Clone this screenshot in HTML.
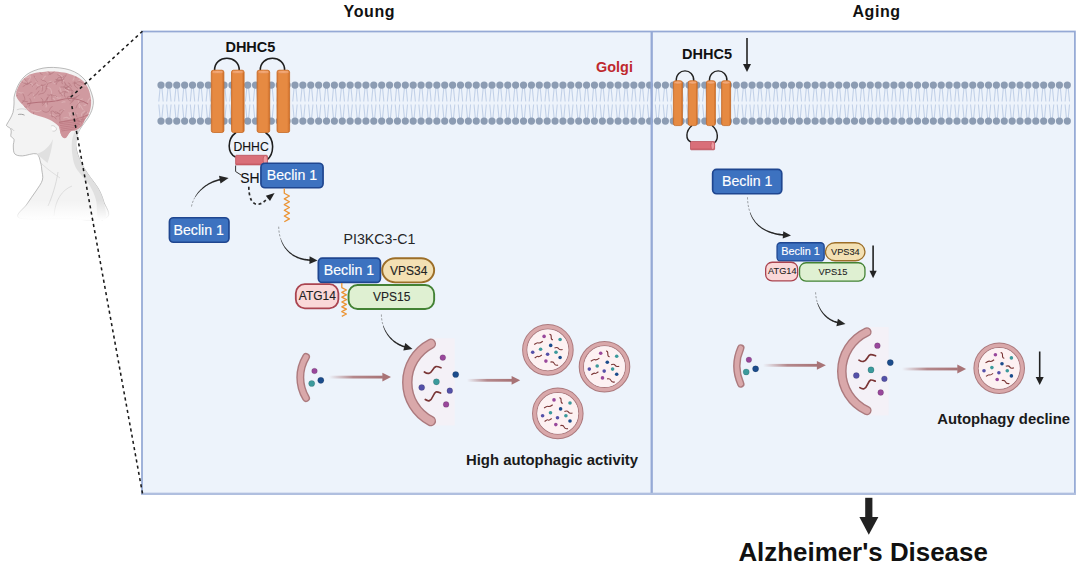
<!DOCTYPE html>
<html><head><meta charset="utf-8"><title>Diagram</title>
<style>
html,body{margin:0;padding:0;background:#fff;width:1080px;height:571px;overflow:hidden}
svg{display:block}
text{font-family:"Liberation Sans",sans-serif}
</style></head><body>
<svg width="1080" height="571" viewBox="0 0 1080 571">
<rect x="142" y="31.5" width="932.9" height="462.3" fill="#edf3fb" stroke="#95a9d5" stroke-width="1.75"/>
<path d="M160.10,88 L158.80,101.5 M161.90,88 L163.20,101.5 M158.80,104.5 L160.10,118 M163.20,104.5 L161.90,118 M167.98,88 L166.68,101.5 M169.78,88 L171.08,101.5 M166.68,104.5 L167.98,118 M171.08,104.5 L169.78,118 M175.86,88 L174.56,101.5 M177.66,88 L178.96,101.5 M174.56,104.5 L175.86,118 M178.96,104.5 L177.66,118 M183.74,88 L182.44,101.5 M185.54,88 L186.84,101.5 M182.44,104.5 L183.74,118 M186.84,104.5 L185.54,118 M191.62,88 L190.32,101.5 M193.42,88 L194.72,101.5 M190.32,104.5 L191.62,118 M194.72,104.5 L193.42,118 M199.50,88 L198.21,101.5 M201.31,88 L202.60,101.5 M198.21,104.5 L199.50,118 M202.60,104.5 L201.31,118 M207.39,88 L206.09,101.5 M209.19,88 L210.49,101.5 M206.09,104.5 L207.39,118 M210.49,104.5 L209.19,118 M215.27,88 L213.97,101.5 M217.07,88 L218.37,101.5 M213.97,104.5 L215.27,118 M218.37,104.5 L217.07,118 M223.15,88 L221.85,101.5 M224.95,88 L226.25,101.5 M221.85,104.5 L223.15,118 M226.25,104.5 L224.95,118 M231.03,88 L229.73,101.5 M232.83,88 L234.13,101.5 M229.73,104.5 L231.03,118 M234.13,104.5 L232.83,118 M238.91,88 L237.61,101.5 M240.71,88 L242.01,101.5 M237.61,104.5 L238.91,118 M242.01,104.5 L240.71,118 M246.79,88 L245.49,101.5 M248.59,88 L249.89,101.5 M245.49,104.5 L246.79,118 M249.89,104.5 L248.59,118 M254.67,88 L253.37,101.5 M256.47,88 L257.77,101.5 M253.37,104.5 L254.67,118 M257.77,104.5 L256.47,118 M262.55,88 L261.25,101.5 M264.35,88 L265.65,101.5 M261.25,104.5 L262.55,118 M265.65,104.5 L264.35,118 M270.43,88 L269.13,101.5 M272.23,88 L273.53,101.5 M269.13,104.5 L270.43,118 M273.53,104.5 L272.23,118 M278.32,88 L277.02,101.5 M280.12,88 L281.42,101.5 M277.02,104.5 L278.32,118 M281.42,104.5 L280.12,118 M286.20,88 L284.90,101.5 M288.00,88 L289.30,101.5 M284.90,104.5 L286.20,118 M289.30,104.5 L288.00,118 M294.08,88 L292.78,101.5 M295.88,88 L297.18,101.5 M292.78,104.5 L294.08,118 M297.18,104.5 L295.88,118 M301.96,88 L300.66,101.5 M303.76,88 L305.06,101.5 M300.66,104.5 L301.96,118 M305.06,104.5 L303.76,118 M309.84,88 L308.54,101.5 M311.64,88 L312.94,101.5 M308.54,104.5 L309.84,118 M312.94,104.5 L311.64,118 M317.72,88 L316.42,101.5 M319.52,88 L320.82,101.5 M316.42,104.5 L317.72,118 M320.82,104.5 L319.52,118 M325.60,88 L324.30,101.5 M327.40,88 L328.70,101.5 M324.30,104.5 L325.60,118 M328.70,104.5 L327.40,118 M333.48,88 L332.18,101.5 M335.28,88 L336.58,101.5 M332.18,104.5 L333.48,118 M336.58,104.5 L335.28,118 M341.36,88 L340.06,101.5 M343.16,88 L344.46,101.5 M340.06,104.5 L341.36,118 M344.46,104.5 L343.16,118 M349.24,88 L347.94,101.5 M351.04,88 L352.34,101.5 M347.94,104.5 L349.24,118 M352.34,104.5 L351.04,118 M357.12,88 L355.82,101.5 M358.92,88 L360.22,101.5 M355.82,104.5 L357.12,118 M360.22,104.5 L358.92,118 M365.01,88 L363.71,101.5 M366.81,88 L368.11,101.5 M363.71,104.5 L365.01,118 M368.11,104.5 L366.81,118 M372.89,88 L371.59,101.5 M374.69,88 L375.99,101.5 M371.59,104.5 L372.89,118 M375.99,104.5 L374.69,118 M380.77,88 L379.47,101.5 M382.57,88 L383.87,101.5 M379.47,104.5 L380.77,118 M383.87,104.5 L382.57,118 M388.65,88 L387.35,101.5 M390.45,88 L391.75,101.5 M387.35,104.5 L388.65,118 M391.75,104.5 L390.45,118 M396.53,88 L395.23,101.5 M398.33,88 L399.63,101.5 M395.23,104.5 L396.53,118 M399.63,104.5 L398.33,118 M404.41,88 L403.11,101.5 M406.21,88 L407.51,101.5 M403.11,104.5 L404.41,118 M407.51,104.5 L406.21,118 M412.29,88 L410.99,101.5 M414.09,88 L415.39,101.5 M410.99,104.5 L412.29,118 M415.39,104.5 L414.09,118 M420.17,88 L418.87,101.5 M421.97,88 L423.27,101.5 M418.87,104.5 L420.17,118 M423.27,104.5 L421.97,118 M428.05,88 L426.75,101.5 M429.85,88 L431.15,101.5 M426.75,104.5 L428.05,118 M431.15,104.5 L429.85,118 M435.94,88 L434.64,101.5 M437.74,88 L439.04,101.5 M434.64,104.5 L435.94,118 M439.04,104.5 L437.74,118 M443.82,88 L442.52,101.5 M445.62,88 L446.92,101.5 M442.52,104.5 L443.82,118 M446.92,104.5 L445.62,118 M451.70,88 L450.40,101.5 M453.50,88 L454.80,101.5 M450.40,104.5 L451.70,118 M454.80,104.5 L453.50,118 M459.58,88 L458.28,101.5 M461.38,88 L462.68,101.5 M458.28,104.5 L459.58,118 M462.68,104.5 L461.38,118 M467.46,88 L466.16,101.5 M469.26,88 L470.56,101.5 M466.16,104.5 L467.46,118 M470.56,104.5 L469.26,118 M475.34,88 L474.04,101.5 M477.14,88 L478.44,101.5 M474.04,104.5 L475.34,118 M478.44,104.5 L477.14,118 M483.22,88 L481.92,101.5 M485.02,88 L486.32,101.5 M481.92,104.5 L483.22,118 M486.32,104.5 L485.02,118 M491.10,88 L489.80,101.5 M492.90,88 L494.20,101.5 M489.80,104.5 L491.10,118 M494.20,104.5 L492.90,118 M498.98,88 L497.68,101.5 M500.78,88 L502.08,101.5 M497.68,104.5 L498.98,118 M502.08,104.5 L500.78,118 M506.86,88 L505.56,101.5 M508.66,88 L509.96,101.5 M505.56,104.5 L506.86,118 M509.96,104.5 L508.66,118 M514.75,88 L513.44,101.5 M516.54,88 L517.85,101.5 M513.44,104.5 L514.75,118 M517.85,104.5 L516.54,118 M522.63,88 L521.33,101.5 M524.43,88 L525.73,101.5 M521.33,104.5 L522.63,118 M525.73,104.5 L524.43,118 M530.51,88 L529.21,101.5 M532.31,88 L533.61,101.5 M529.21,104.5 L530.51,118 M533.61,104.5 L532.31,118 M538.39,88 L537.09,101.5 M540.19,88 L541.49,101.5 M537.09,104.5 L538.39,118 M541.49,104.5 L540.19,118 M546.27,88 L544.97,101.5 M548.07,88 L549.37,101.5 M544.97,104.5 L546.27,118 M549.37,104.5 L548.07,118 M554.15,88 L552.85,101.5 M555.95,88 L557.25,101.5 M552.85,104.5 L554.15,118 M557.25,104.5 L555.95,118 M562.03,88 L560.73,101.5 M563.83,88 L565.13,101.5 M560.73,104.5 L562.03,118 M565.13,104.5 L563.83,118 M569.91,88 L568.61,101.5 M571.71,88 L573.01,101.5 M568.61,104.5 L569.91,118 M573.01,104.5 L571.71,118 M577.79,88 L576.49,101.5 M579.59,88 L580.89,101.5 M576.49,104.5 L577.79,118 M580.89,104.5 L579.59,118 M585.67,88 L584.37,101.5 M587.47,88 L588.77,101.5 M584.37,104.5 L585.67,118 M588.77,104.5 L587.47,118 M593.56,88 L592.25,101.5 M595.36,88 L596.66,101.5 M592.25,104.5 L593.56,118 M596.66,104.5 L595.36,118 M601.44,88 L600.14,101.5 M603.24,88 L604.54,101.5 M600.14,104.5 L601.44,118 M604.54,104.5 L603.24,118 M609.32,88 L608.02,101.5 M611.12,88 L612.42,101.5 M608.02,104.5 L609.32,118 M612.42,104.5 L611.12,118 M617.20,88 L615.90,101.5 M619.00,88 L620.30,101.5 M615.90,104.5 L617.20,118 M620.30,104.5 L619.00,118 M625.08,88 L623.78,101.5 M626.88,88 L628.18,101.5 M623.78,104.5 L625.08,118 M628.18,104.5 L626.88,118 M632.96,88 L631.66,101.5 M634.76,88 L636.06,101.5 M631.66,104.5 L632.96,118 M636.06,104.5 L634.76,118 M640.84,88 L639.54,101.5 M642.64,88 L643.94,101.5 M639.54,104.5 L640.84,118 M643.94,104.5 L642.64,118 M648.72,88 L647.42,101.5 M650.52,88 L651.82,101.5 M647.42,104.5 L648.72,118 M651.82,104.5 L650.52,118 M656.60,88 L655.30,101.5 M658.40,88 L659.70,101.5 M655.30,104.5 L656.60,118 M659.70,104.5 L658.40,118 M664.48,88 L663.18,101.5 M666.28,88 L667.58,101.5 M663.18,104.5 L664.48,118 M667.58,104.5 L666.28,118 M672.37,88 L671.06,101.5 M674.16,88 L675.47,101.5 M671.06,104.5 L672.37,118 M675.47,104.5 L674.16,118 M680.25,88 L678.95,101.5 M682.05,88 L683.35,101.5 M678.95,104.5 L680.25,118 M683.35,104.5 L682.05,118 M688.13,88 L686.83,101.5 M689.93,88 L691.23,101.5 M686.83,104.5 L688.13,118 M691.23,104.5 L689.93,118 M696.01,88 L694.71,101.5 M697.81,88 L699.11,101.5 M694.71,104.5 L696.01,118 M699.11,104.5 L697.81,118 M703.89,88 L702.59,101.5 M705.69,88 L706.99,101.5 M702.59,104.5 L703.89,118 M706.99,104.5 L705.69,118 M711.77,88 L710.47,101.5 M713.57,88 L714.87,101.5 M710.47,104.5 L711.77,118 M714.87,104.5 L713.57,118 M719.65,88 L718.35,101.5 M721.45,88 L722.75,101.5 M718.35,104.5 L719.65,118 M722.75,104.5 L721.45,118 M727.53,88 L726.23,101.5 M729.33,88 L730.63,101.5 M726.23,104.5 L727.53,118 M730.63,104.5 L729.33,118 M735.41,88 L734.11,101.5 M737.21,88 L738.51,101.5 M734.11,104.5 L735.41,118 M738.51,104.5 L737.21,118 M743.29,88 L741.99,101.5 M745.09,88 L746.39,101.5 M741.99,104.5 L743.29,118 M746.39,104.5 L745.09,118 M751.18,88 L749.88,101.5 M752.98,88 L754.28,101.5 M749.88,104.5 L751.18,118 M754.28,104.5 L752.98,118 M759.06,88 L757.76,101.5 M760.86,88 L762.16,101.5 M757.76,104.5 L759.06,118 M762.16,104.5 L760.86,118 M766.94,88 L765.64,101.5 M768.74,88 L770.04,101.5 M765.64,104.5 L766.94,118 M770.04,104.5 L768.74,118 M774.82,88 L773.52,101.5 M776.62,88 L777.92,101.5 M773.52,104.5 L774.82,118 M777.92,104.5 L776.62,118 M782.70,88 L781.40,101.5 M784.50,88 L785.80,101.5 M781.40,104.5 L782.70,118 M785.80,104.5 L784.50,118 M790.58,88 L789.28,101.5 M792.38,88 L793.68,101.5 M789.28,104.5 L790.58,118 M793.68,104.5 L792.38,118 M798.46,88 L797.16,101.5 M800.26,88 L801.56,101.5 M797.16,104.5 L798.46,118 M801.56,104.5 L800.26,118 M806.34,88 L805.04,101.5 M808.14,88 L809.44,101.5 M805.04,104.5 L806.34,118 M809.44,104.5 L808.14,118 M814.22,88 L812.92,101.5 M816.02,88 L817.32,101.5 M812.92,104.5 L814.22,118 M817.32,104.5 L816.02,118 M822.10,88 L820.80,101.5 M823.90,88 L825.20,101.5 M820.80,104.5 L822.10,118 M825.20,104.5 L823.90,118 M829.99,88 L828.68,101.5 M831.78,88 L833.09,101.5 M828.68,104.5 L829.99,118 M833.09,104.5 L831.78,118 M837.87,88 L836.57,101.5 M839.67,88 L840.97,101.5 M836.57,104.5 L837.87,118 M840.97,104.5 L839.67,118 M845.75,88 L844.45,101.5 M847.55,88 L848.85,101.5 M844.45,104.5 L845.75,118 M848.85,104.5 L847.55,118 M853.63,88 L852.33,101.5 M855.43,88 L856.73,101.5 M852.33,104.5 L853.63,118 M856.73,104.5 L855.43,118 M861.51,88 L860.21,101.5 M863.31,88 L864.61,101.5 M860.21,104.5 L861.51,118 M864.61,104.5 L863.31,118 M869.39,88 L868.09,101.5 M871.19,88 L872.49,101.5 M868.09,104.5 L869.39,118 M872.49,104.5 L871.19,118 M877.27,88 L875.97,101.5 M879.07,88 L880.37,101.5 M875.97,104.5 L877.27,118 M880.37,104.5 L879.07,118 M885.15,88 L883.85,101.5 M886.95,88 L888.25,101.5 M883.85,104.5 L885.15,118 M888.25,104.5 L886.95,118 M893.03,88 L891.73,101.5 M894.83,88 L896.13,101.5 M891.73,104.5 L893.03,118 M896.13,104.5 L894.83,118 M900.91,88 L899.61,101.5 M902.71,88 L904.01,101.5 M899.61,104.5 L900.91,118 M904.01,104.5 L902.71,118 M908.80,88 L907.50,101.5 M910.60,88 L911.90,101.5 M907.50,104.5 L908.80,118 M911.90,104.5 L910.60,118 M916.68,88 L915.38,101.5 M918.48,88 L919.78,101.5 M915.38,104.5 L916.68,118 M919.78,104.5 L918.48,118 M924.56,88 L923.26,101.5 M926.36,88 L927.66,101.5 M923.26,104.5 L924.56,118 M927.66,104.5 L926.36,118 M932.44,88 L931.14,101.5 M934.24,88 L935.54,101.5 M931.14,104.5 L932.44,118 M935.54,104.5 L934.24,118 M940.32,88 L939.02,101.5 M942.12,88 L943.42,101.5 M939.02,104.5 L940.32,118 M943.42,104.5 L942.12,118 M948.20,88 L946.90,101.5 M950.00,88 L951.30,101.5 M946.90,104.5 L948.20,118 M951.30,104.5 L950.00,118 M956.08,88 L954.78,101.5 M957.88,88 L959.18,101.5 M954.78,104.5 L956.08,118 M959.18,104.5 L957.88,118 M963.96,88 L962.66,101.5 M965.76,88 L967.06,101.5 M962.66,104.5 L963.96,118 M967.06,104.5 L965.76,118 M971.84,88 L970.54,101.5 M973.64,88 L974.94,101.5 M970.54,104.5 L971.84,118 M974.94,104.5 L973.64,118 M979.72,88 L978.42,101.5 M981.52,88 L982.82,101.5 M978.42,104.5 L979.72,118 M982.82,104.5 L981.52,118 M987.61,88 L986.30,101.5 M989.40,88 L990.71,101.5 M986.30,104.5 L987.61,118 M990.71,104.5 L989.40,118 M995.49,88 L994.19,101.5 M997.29,88 L998.59,101.5 M994.19,104.5 L995.49,118 M998.59,104.5 L997.29,118 M1003.37,88 L1002.07,101.5 M1005.17,88 L1006.47,101.5 M1002.07,104.5 L1003.37,118 M1006.47,104.5 L1005.17,118 M1011.25,88 L1009.95,101.5 M1013.05,88 L1014.35,101.5 M1009.95,104.5 L1011.25,118 M1014.35,104.5 L1013.05,118 M1019.13,88 L1017.83,101.5 M1020.93,88 L1022.23,101.5 M1017.83,104.5 L1019.13,118 M1022.23,104.5 L1020.93,118 M1027.01,88 L1025.71,101.5 M1028.81,88 L1030.11,101.5 M1025.71,104.5 L1027.01,118 M1030.11,104.5 L1028.81,118 M1034.89,88 L1033.59,101.5 M1036.69,88 L1037.99,101.5 M1033.59,104.5 L1034.89,118 M1037.99,104.5 L1036.69,118 M1042.77,88 L1041.47,101.5 M1044.57,88 L1045.87,101.5 M1041.47,104.5 L1042.77,118 M1045.87,104.5 L1044.57,118 M1050.65,88 L1049.35,101.5 M1052.45,88 L1053.75,101.5 M1049.35,104.5 L1050.65,118 M1053.75,104.5 L1052.45,118 M1058.53,88 L1057.23,101.5 M1060.33,88 L1061.63,101.5 M1057.23,104.5 L1058.53,118 M1061.63,104.5 L1060.33,118 M1066.41,88 L1065.12,101.5 M1068.22,88 L1069.52,101.5 M1065.12,104.5 L1066.41,118 M1069.52,104.5 L1068.22,118" stroke="#c2d1e8" stroke-width="1.1" fill="none"/>
<g fill="#8c9cb3"><circle cx="161.00" cy="85.1" r="3.6"/><circle cx="161.00" cy="121.1" r="3.6"/><circle cx="168.88" cy="85.1" r="3.6"/><circle cx="168.88" cy="121.1" r="3.6"/><circle cx="176.76" cy="85.1" r="3.6"/><circle cx="176.76" cy="121.1" r="3.6"/><circle cx="184.64" cy="85.1" r="3.6"/><circle cx="184.64" cy="121.1" r="3.6"/><circle cx="192.52" cy="85.1" r="3.6"/><circle cx="192.52" cy="121.1" r="3.6"/><circle cx="200.41" cy="85.1" r="3.6"/><circle cx="200.41" cy="121.1" r="3.6"/><circle cx="208.29" cy="85.1" r="3.6"/><circle cx="208.29" cy="121.1" r="3.6"/><circle cx="216.17" cy="85.1" r="3.6"/><circle cx="216.17" cy="121.1" r="3.6"/><circle cx="224.05" cy="85.1" r="3.6"/><circle cx="224.05" cy="121.1" r="3.6"/><circle cx="231.93" cy="85.1" r="3.6"/><circle cx="231.93" cy="121.1" r="3.6"/><circle cx="239.81" cy="85.1" r="3.6"/><circle cx="239.81" cy="121.1" r="3.6"/><circle cx="247.69" cy="85.1" r="3.6"/><circle cx="247.69" cy="121.1" r="3.6"/><circle cx="255.57" cy="85.1" r="3.6"/><circle cx="255.57" cy="121.1" r="3.6"/><circle cx="263.45" cy="85.1" r="3.6"/><circle cx="263.45" cy="121.1" r="3.6"/><circle cx="271.33" cy="85.1" r="3.6"/><circle cx="271.33" cy="121.1" r="3.6"/><circle cx="279.22" cy="85.1" r="3.6"/><circle cx="279.22" cy="121.1" r="3.6"/><circle cx="287.10" cy="85.1" r="3.6"/><circle cx="287.10" cy="121.1" r="3.6"/><circle cx="294.98" cy="85.1" r="3.6"/><circle cx="294.98" cy="121.1" r="3.6"/><circle cx="302.86" cy="85.1" r="3.6"/><circle cx="302.86" cy="121.1" r="3.6"/><circle cx="310.74" cy="85.1" r="3.6"/><circle cx="310.74" cy="121.1" r="3.6"/><circle cx="318.62" cy="85.1" r="3.6"/><circle cx="318.62" cy="121.1" r="3.6"/><circle cx="326.50" cy="85.1" r="3.6"/><circle cx="326.50" cy="121.1" r="3.6"/><circle cx="334.38" cy="85.1" r="3.6"/><circle cx="334.38" cy="121.1" r="3.6"/><circle cx="342.26" cy="85.1" r="3.6"/><circle cx="342.26" cy="121.1" r="3.6"/><circle cx="350.14" cy="85.1" r="3.6"/><circle cx="350.14" cy="121.1" r="3.6"/><circle cx="358.02" cy="85.1" r="3.6"/><circle cx="358.02" cy="121.1" r="3.6"/><circle cx="365.91" cy="85.1" r="3.6"/><circle cx="365.91" cy="121.1" r="3.6"/><circle cx="373.79" cy="85.1" r="3.6"/><circle cx="373.79" cy="121.1" r="3.6"/><circle cx="381.67" cy="85.1" r="3.6"/><circle cx="381.67" cy="121.1" r="3.6"/><circle cx="389.55" cy="85.1" r="3.6"/><circle cx="389.55" cy="121.1" r="3.6"/><circle cx="397.43" cy="85.1" r="3.6"/><circle cx="397.43" cy="121.1" r="3.6"/><circle cx="405.31" cy="85.1" r="3.6"/><circle cx="405.31" cy="121.1" r="3.6"/><circle cx="413.19" cy="85.1" r="3.6"/><circle cx="413.19" cy="121.1" r="3.6"/><circle cx="421.07" cy="85.1" r="3.6"/><circle cx="421.07" cy="121.1" r="3.6"/><circle cx="428.95" cy="85.1" r="3.6"/><circle cx="428.95" cy="121.1" r="3.6"/><circle cx="436.84" cy="85.1" r="3.6"/><circle cx="436.84" cy="121.1" r="3.6"/><circle cx="444.72" cy="85.1" r="3.6"/><circle cx="444.72" cy="121.1" r="3.6"/><circle cx="452.60" cy="85.1" r="3.6"/><circle cx="452.60" cy="121.1" r="3.6"/><circle cx="460.48" cy="85.1" r="3.6"/><circle cx="460.48" cy="121.1" r="3.6"/><circle cx="468.36" cy="85.1" r="3.6"/><circle cx="468.36" cy="121.1" r="3.6"/><circle cx="476.24" cy="85.1" r="3.6"/><circle cx="476.24" cy="121.1" r="3.6"/><circle cx="484.12" cy="85.1" r="3.6"/><circle cx="484.12" cy="121.1" r="3.6"/><circle cx="492.00" cy="85.1" r="3.6"/><circle cx="492.00" cy="121.1" r="3.6"/><circle cx="499.88" cy="85.1" r="3.6"/><circle cx="499.88" cy="121.1" r="3.6"/><circle cx="507.76" cy="85.1" r="3.6"/><circle cx="507.76" cy="121.1" r="3.6"/><circle cx="515.64" cy="85.1" r="3.6"/><circle cx="515.64" cy="121.1" r="3.6"/><circle cx="523.53" cy="85.1" r="3.6"/><circle cx="523.53" cy="121.1" r="3.6"/><circle cx="531.41" cy="85.1" r="3.6"/><circle cx="531.41" cy="121.1" r="3.6"/><circle cx="539.29" cy="85.1" r="3.6"/><circle cx="539.29" cy="121.1" r="3.6"/><circle cx="547.17" cy="85.1" r="3.6"/><circle cx="547.17" cy="121.1" r="3.6"/><circle cx="555.05" cy="85.1" r="3.6"/><circle cx="555.05" cy="121.1" r="3.6"/><circle cx="562.93" cy="85.1" r="3.6"/><circle cx="562.93" cy="121.1" r="3.6"/><circle cx="570.81" cy="85.1" r="3.6"/><circle cx="570.81" cy="121.1" r="3.6"/><circle cx="578.69" cy="85.1" r="3.6"/><circle cx="578.69" cy="121.1" r="3.6"/><circle cx="586.57" cy="85.1" r="3.6"/><circle cx="586.57" cy="121.1" r="3.6"/><circle cx="594.46" cy="85.1" r="3.6"/><circle cx="594.46" cy="121.1" r="3.6"/><circle cx="602.34" cy="85.1" r="3.6"/><circle cx="602.34" cy="121.1" r="3.6"/><circle cx="610.22" cy="85.1" r="3.6"/><circle cx="610.22" cy="121.1" r="3.6"/><circle cx="618.10" cy="85.1" r="3.6"/><circle cx="618.10" cy="121.1" r="3.6"/><circle cx="625.98" cy="85.1" r="3.6"/><circle cx="625.98" cy="121.1" r="3.6"/><circle cx="633.86" cy="85.1" r="3.6"/><circle cx="633.86" cy="121.1" r="3.6"/><circle cx="641.74" cy="85.1" r="3.6"/><circle cx="641.74" cy="121.1" r="3.6"/><circle cx="649.62" cy="85.1" r="3.6"/><circle cx="649.62" cy="121.1" r="3.6"/><circle cx="657.50" cy="85.1" r="3.6"/><circle cx="657.50" cy="121.1" r="3.6"/><circle cx="665.38" cy="85.1" r="3.6"/><circle cx="665.38" cy="121.1" r="3.6"/><circle cx="673.26" cy="85.1" r="3.6"/><circle cx="673.26" cy="121.1" r="3.6"/><circle cx="681.15" cy="85.1" r="3.6"/><circle cx="681.15" cy="121.1" r="3.6"/><circle cx="689.03" cy="85.1" r="3.6"/><circle cx="689.03" cy="121.1" r="3.6"/><circle cx="696.91" cy="85.1" r="3.6"/><circle cx="696.91" cy="121.1" r="3.6"/><circle cx="704.79" cy="85.1" r="3.6"/><circle cx="704.79" cy="121.1" r="3.6"/><circle cx="712.67" cy="85.1" r="3.6"/><circle cx="712.67" cy="121.1" r="3.6"/><circle cx="720.55" cy="85.1" r="3.6"/><circle cx="720.55" cy="121.1" r="3.6"/><circle cx="728.43" cy="85.1" r="3.6"/><circle cx="728.43" cy="121.1" r="3.6"/><circle cx="736.31" cy="85.1" r="3.6"/><circle cx="736.31" cy="121.1" r="3.6"/><circle cx="744.19" cy="85.1" r="3.6"/><circle cx="744.19" cy="121.1" r="3.6"/><circle cx="752.08" cy="85.1" r="3.6"/><circle cx="752.08" cy="121.1" r="3.6"/><circle cx="759.96" cy="85.1" r="3.6"/><circle cx="759.96" cy="121.1" r="3.6"/><circle cx="767.84" cy="85.1" r="3.6"/><circle cx="767.84" cy="121.1" r="3.6"/><circle cx="775.72" cy="85.1" r="3.6"/><circle cx="775.72" cy="121.1" r="3.6"/><circle cx="783.60" cy="85.1" r="3.6"/><circle cx="783.60" cy="121.1" r="3.6"/><circle cx="791.48" cy="85.1" r="3.6"/><circle cx="791.48" cy="121.1" r="3.6"/><circle cx="799.36" cy="85.1" r="3.6"/><circle cx="799.36" cy="121.1" r="3.6"/><circle cx="807.24" cy="85.1" r="3.6"/><circle cx="807.24" cy="121.1" r="3.6"/><circle cx="815.12" cy="85.1" r="3.6"/><circle cx="815.12" cy="121.1" r="3.6"/><circle cx="823.00" cy="85.1" r="3.6"/><circle cx="823.00" cy="121.1" r="3.6"/><circle cx="830.88" cy="85.1" r="3.6"/><circle cx="830.88" cy="121.1" r="3.6"/><circle cx="838.77" cy="85.1" r="3.6"/><circle cx="838.77" cy="121.1" r="3.6"/><circle cx="846.65" cy="85.1" r="3.6"/><circle cx="846.65" cy="121.1" r="3.6"/><circle cx="854.53" cy="85.1" r="3.6"/><circle cx="854.53" cy="121.1" r="3.6"/><circle cx="862.41" cy="85.1" r="3.6"/><circle cx="862.41" cy="121.1" r="3.6"/><circle cx="870.29" cy="85.1" r="3.6"/><circle cx="870.29" cy="121.1" r="3.6"/><circle cx="878.17" cy="85.1" r="3.6"/><circle cx="878.17" cy="121.1" r="3.6"/><circle cx="886.05" cy="85.1" r="3.6"/><circle cx="886.05" cy="121.1" r="3.6"/><circle cx="893.93" cy="85.1" r="3.6"/><circle cx="893.93" cy="121.1" r="3.6"/><circle cx="901.81" cy="85.1" r="3.6"/><circle cx="901.81" cy="121.1" r="3.6"/><circle cx="909.70" cy="85.1" r="3.6"/><circle cx="909.70" cy="121.1" r="3.6"/><circle cx="917.58" cy="85.1" r="3.6"/><circle cx="917.58" cy="121.1" r="3.6"/><circle cx="925.46" cy="85.1" r="3.6"/><circle cx="925.46" cy="121.1" r="3.6"/><circle cx="933.34" cy="85.1" r="3.6"/><circle cx="933.34" cy="121.1" r="3.6"/><circle cx="941.22" cy="85.1" r="3.6"/><circle cx="941.22" cy="121.1" r="3.6"/><circle cx="949.10" cy="85.1" r="3.6"/><circle cx="949.10" cy="121.1" r="3.6"/><circle cx="956.98" cy="85.1" r="3.6"/><circle cx="956.98" cy="121.1" r="3.6"/><circle cx="964.86" cy="85.1" r="3.6"/><circle cx="964.86" cy="121.1" r="3.6"/><circle cx="972.74" cy="85.1" r="3.6"/><circle cx="972.74" cy="121.1" r="3.6"/><circle cx="980.62" cy="85.1" r="3.6"/><circle cx="980.62" cy="121.1" r="3.6"/><circle cx="988.50" cy="85.1" r="3.6"/><circle cx="988.50" cy="121.1" r="3.6"/><circle cx="996.39" cy="85.1" r="3.6"/><circle cx="996.39" cy="121.1" r="3.6"/><circle cx="1004.27" cy="85.1" r="3.6"/><circle cx="1004.27" cy="121.1" r="3.6"/><circle cx="1012.15" cy="85.1" r="3.6"/><circle cx="1012.15" cy="121.1" r="3.6"/><circle cx="1020.03" cy="85.1" r="3.6"/><circle cx="1020.03" cy="121.1" r="3.6"/><circle cx="1027.91" cy="85.1" r="3.6"/><circle cx="1027.91" cy="121.1" r="3.6"/><circle cx="1035.79" cy="85.1" r="3.6"/><circle cx="1035.79" cy="121.1" r="3.6"/><circle cx="1043.67" cy="85.1" r="3.6"/><circle cx="1043.67" cy="121.1" r="3.6"/><circle cx="1051.55" cy="85.1" r="3.6"/><circle cx="1051.55" cy="121.1" r="3.6"/><circle cx="1059.43" cy="85.1" r="3.6"/><circle cx="1059.43" cy="121.1" r="3.6"/><circle cx="1067.32" cy="85.1" r="3.6"/><circle cx="1067.32" cy="121.1" r="3.6"/></g>
<line x1="651.7" y1="31.5" x2="651.7" y2="493.8" stroke="#95a9d5" stroke-width="2.3"/>
<line x1="141.2" y1="493.9" x2="1075.8" y2="493.9" stroke="#b0bfdf" stroke-width="2.2"/>
<defs><linearGradient id="cylg" x1="0" x2="1" y1="0" y2="0"><stop offset="0" stop-color="#d9793a"/><stop offset="0.15" stop-color="#e68a42"/><stop offset="0.8" stop-color="#e68a42"/><stop offset="1" stop-color="#cf6d28"/></linearGradient></defs>
<g fill="none" stroke="#1e1e1e" stroke-width="1.55">
<path d="M214.6,70.5 C214,54.2 239.8,54.2 239.2,70.5"/>
<path d="M260.3,70.5 C259.7,54.2 285.2,54.2 284.6,70.5"/>
<path d="M236,132.5 C227,139 227,153 235.5,157 M265.5,132.5 C274.7,139 274.7,153 267,160"/>
</g>
<rect x="211.3" y="70.2" width="12.6" height="62.3" rx="2" fill="url(#cylg)" stroke="#c56a25" stroke-width="0.8"/><ellipse cx="217.60000000000002" cy="71.9" rx="5.6" ry="1.5" fill="#f2a878" stroke="#d87a35" stroke-width="0.5"/>
<rect x="231.5" y="70.2" width="12.6" height="62.3" rx="2" fill="url(#cylg)" stroke="#c56a25" stroke-width="0.8"/><ellipse cx="237.8" cy="71.9" rx="5.6" ry="1.5" fill="#f2a878" stroke="#d87a35" stroke-width="0.5"/>
<rect x="257.1" y="70.2" width="12.6" height="62.3" rx="2" fill="url(#cylg)" stroke="#c56a25" stroke-width="0.8"/><ellipse cx="263.40000000000003" cy="71.9" rx="5.6" ry="1.5" fill="#f2a878" stroke="#d87a35" stroke-width="0.5"/>
<rect x="277.0" y="70.2" width="12.6" height="62.3" rx="2" fill="url(#cylg)" stroke="#c56a25" stroke-width="0.8"/><ellipse cx="283.3" cy="71.9" rx="5.6" ry="1.5" fill="#f2a878" stroke="#d87a35" stroke-width="0.5"/>
<rect x="235.6" y="155.3" width="31.799999999999983" height="9.599999999999994" rx="0.8" fill="#d96f79" stroke="#b44953" stroke-width="0.7"/><rect x="236.0" y="163.5" width="30.999999999999982" height="1.1" fill="#c2545e" opacity="0.6"/><ellipse cx="265.28799999999995" cy="160.10000000000002" rx="2.1119999999999988" ry="4.499999999999997" fill="#ee9aa0" stroke="#b44953" stroke-width="0.6"/>
<path d="M235.6,165.5 L235.6,171.5 L241,175" fill="none" stroke="#333" stroke-width="1"/>
<g fill="none" stroke="#222" stroke-width="1.45">
<path d="M676.3,81 C675.5,67.5 694.5,67.5 693.7,81"/>
<path d="M709.5,81 C708.7,67.5 727.7,67.5 726.9,81"/>
<path d="M692,125.5 C685.4,131 685.4,140 691,142 M712,125.5 C718.7,131 718.7,140 714,143"/>
</g>
<rect x="673.4" y="80.8" width="9.0" height="44.8" rx="2" fill="url(#cylg)" stroke="#c56a25" stroke-width="0.8"/><ellipse cx="677.9" cy="82.5" rx="3.8" ry="1.5" fill="#f2a878" stroke="#d87a35" stroke-width="0.5"/>
<rect x="688.2" y="80.8" width="9.0" height="44.8" rx="2" fill="url(#cylg)" stroke="#c56a25" stroke-width="0.8"/><ellipse cx="692.7" cy="82.5" rx="3.8" ry="1.5" fill="#f2a878" stroke="#d87a35" stroke-width="0.5"/>
<rect x="706.4" y="80.8" width="9.0" height="44.8" rx="2" fill="url(#cylg)" stroke="#c56a25" stroke-width="0.8"/><ellipse cx="710.9" cy="82.5" rx="3.8" ry="1.5" fill="#f2a878" stroke="#d87a35" stroke-width="0.5"/>
<rect x="721.6" y="80.8" width="9.0" height="44.8" rx="2" fill="url(#cylg)" stroke="#c56a25" stroke-width="0.8"/><ellipse cx="726.1" cy="82.5" rx="3.8" ry="1.5" fill="#f2a878" stroke="#d87a35" stroke-width="0.5"/>
<rect x="690.5" y="141.5" width="24.100000000000023" height="8.300000000000011" rx="0.8" fill="#d96f79" stroke="#b44953" stroke-width="0.7"/><rect x="690.9" y="148.4" width="23.300000000000022" height="1.1" fill="#c2545e" opacity="0.6"/><ellipse cx="712.774" cy="145.65" rx="1.8260000000000025" ry="3.850000000000006" fill="#ee9aa0" stroke="#b44953" stroke-width="0.6"/>
<rect x="260.95" y="163.25" width="62.10" height="24.50" rx="4" fill="#3d72c0" stroke="#1f4690" stroke-width="1.7"/><text x="292.0" y="179.7" font-size="14.2" fill="#fff" stroke="#fff" stroke-width="0.14" text-anchor="middle">Beclin 1</text>
<rect x="169.45" y="217.75" width="59.50" height="24.50" rx="4" fill="#3d72c0" stroke="#1f4690" stroke-width="1.7"/><text x="198.7" y="235" font-size="14.2" fill="#fff" stroke="#fff" stroke-width="0.14" text-anchor="middle">Beclin 1</text>
<rect x="712.65" y="169.45" width="69.10" height="24.30" rx="4" fill="#3d72c0" stroke="#1f4690" stroke-width="1.7"/><text x="747.1999999999999" y="186.2" font-size="14.2" fill="#fff" stroke="#fff" stroke-width="0.14" text-anchor="middle">Beclin 1</text>
<rect x="318.35" y="258.15" width="62.05" height="24.30" rx="4" fill="#3d72c0" stroke="#1f4690" stroke-width="1.7"/><text x="349" y="274.5" font-size="14.2" fill="#fff" stroke="#fff" stroke-width="0.14" text-anchor="middle">Beclin 1</text>
<rect x="382.20" y="258.25" width="51.95" height="24.10" rx="13" fill="#f3e0b3" stroke="#9c6e28" stroke-width="1.9"/><text x="408.8" y="274.5" font-size="12" fill="#222" stroke="#222" stroke-width="0.12" text-anchor="middle">VPS34</text>
<rect x="295.80" y="284.15" width="42.60" height="24.20" rx="9" fill="#fad8d8" stroke="#aa4450" stroke-width="1.8"/><text x="317.4" y="300.2" font-size="12" fill="#222" stroke="#222" stroke-width="0.12" text-anchor="middle">ATG14</text>
<rect x="348.55" y="284.95" width="85.60" height="24.10" rx="9" fill="#dff0d2" stroke="#438234" stroke-width="1.9"/><text x="391.7" y="300.9" font-size="12" fill="#222" stroke="#222" stroke-width="0.12" text-anchor="middle">VPS15</text>
<rect x="777.05" y="242.75" width="47.10" height="18.20" rx="3.5" fill="#3d72c0" stroke="#1f4690" stroke-width="1.3"/><text x="800.5" y="255.4" font-size="10.9" fill="#fff" stroke="#fff" stroke-width="0.11" text-anchor="middle">Beclin 1</text>
<rect x="825.45" y="242.75" width="39.50" height="18.00" rx="9.6" fill="#f3e0b3" stroke="#9c6e28" stroke-width="1.3"/><text x="845.4" y="255.4" font-size="9.2" fill="#222" stroke="#222" stroke-width="0.09" text-anchor="middle">VPS34</text>
<rect x="765.65" y="262.25" width="32.00" height="18.70" rx="6.5" fill="#fad8d8" stroke="#aa4450" stroke-width="1.3"/><text x="782.3" y="274.3" font-size="9.2" fill="#222" stroke="#222" stroke-width="0.09" text-anchor="middle">ATG14</text>
<rect x="799.55" y="262.75" width="65.40" height="18.40" rx="6.5" fill="#dff0d2" stroke="#438234" stroke-width="1.3"/><text x="833" y="275.1" font-size="9.3" fill="#222" stroke="#222" stroke-width="0.09" text-anchor="middle">VPS15</text>
<path d="M284.3,188.6 L284.3,193.2 L289.4,196.05 L284.3,198.90 L289.4,201.75 L284.3,204.60 L289.4,207.45 L284.3,210.30 L289.4,213.15 L284.3,216.00 L289.4,218.85 L284.3,221.70" fill="none" stroke="#eb9434" stroke-width="1.3" stroke-linejoin="round"/>
<path d="M341.8,283.0 L341.8,287.6 L346.4,290.00 L341.8,292.40 L346.4,294.80 L341.8,297.20 L346.4,299.60 L341.8,302.00 L346.4,304.40 L341.8,306.80 L346.4,309.20 L341.8,311.60 L346.4,314.00 L341.8,316.40" fill="none" stroke="#eb9434" stroke-width="1.3" stroke-linejoin="round"/>
<path d="M191.50,206.50 L191.63,205.83 L191.78,205.16 L191.95,204.49 L192.14,203.84 L192.34,203.18 L192.56,202.53 L192.79,201.89 L193.04,201.25 L193.30,200.61 L193.58,199.99 L193.87,199.36 L194.18,198.75 L194.50,198.14 L194.84,197.53 L195.19,196.94" fill="none" stroke="#262626" stroke-width="0.55" stroke-dasharray="2.2,1.6" opacity="0.8"/><path d="M195.41,197.07 L195.84,196.42 L196.28,195.79 L196.74,195.16 L197.21,194.54 L197.69,193.93 L198.19,193.33 L198.70,192.74 L199.23,192.16 L199.76,191.59 L200.31,191.03 L200.88,190.48 L201.45,189.95 L202.04,189.42 L202.64,188.91 L203.25,188.41 L203.87,187.91 L204.49,187.44 L205.13,186.97 L205.78,186.52 L206.44,186.08 L207.11,185.65 L207.78,185.24 L208.46,184.84 L209.15,184.45 L209.85,184.08 L210.55,183.73 L211.26,183.38 L211.98,183.06 L212.70,182.74 L213.43,182.45 L214.16,182.16 L214.89,181.90 L215.63,181.65 L216.37,181.41 L217.12,181.19 L217.87,180.99 L218.62,180.81 L219.37,180.64 L220.12,180.49 L220.88,180.36 L220.58,178.68 L219.79,178.85 L219.00,179.03 L218.22,179.23 L217.44,179.45 L216.67,179.68 L215.90,179.93 L215.13,180.20 L214.37,180.49 L213.62,180.79 L212.87,181.10 L212.12,181.44 L211.39,181.78 L210.66,182.15 L209.93,182.53 L209.22,182.92 L208.51,183.33 L207.81,183.75 L207.12,184.18 L206.44,184.63 L205.77,185.10 L205.11,185.57 L204.46,186.06 L203.82,186.56 L203.19,187.08 L202.57,187.60 L201.97,188.14 L201.37,188.69 L200.79,189.25 L200.22,189.83 L199.67,190.41 L199.13,191.00 L198.60,191.61 L198.09,192.23 L197.60,192.85 L197.12,193.49 L196.65,194.13 L196.20,194.79 L195.77,195.45 L195.36,196.12 L194.98,196.81 Z" fill="#262626"/><path d="M228.6,178.1 L220.5,183.6 L219.0,175.8 Z" fill="#262626"/>
<path d="M248.8,186.8 C249,200 253,204.5 258,204.3 C262,204 265,201 268,198" fill="none" stroke="#2a2a2a" stroke-width="1.7" stroke-dasharray="3,2.6"/>
<path d="M274.6,193.1 L270.0,201.0 L265.8,195.7 Z" fill="#222"/>
<path d="M278.70,226.70 L278.72,227.66 L278.77,228.61 L278.83,229.55 L278.91,230.48 L279.02,231.40 L279.14,232.31 L279.28,233.21 L279.43,234.09 L279.61,234.97 L279.81,235.83 L280.02,236.69 L280.25,237.53 L280.50,238.36 L280.77,239.17 L281.05,239.98" fill="none" stroke="#262626" stroke-width="0.55" stroke-dasharray="2.2,1.6" opacity="0.8"/><path d="M280.82,240.06 L281.13,240.97 L281.48,241.86 L281.85,242.74 L282.25,243.59 L282.67,244.43 L283.11,245.26 L283.57,246.07 L284.06,246.86 L284.57,247.63 L285.10,248.38 L285.66,249.12 L286.23,249.83 L286.83,250.53 L287.45,251.21 L288.09,251.87 L288.75,252.51 L289.44,253.13 L290.14,253.73 L290.86,254.30 L291.61,254.86 L292.37,255.39 L293.16,255.91 L293.96,256.40 L294.79,256.86 L295.63,257.31 L296.49,257.73 L297.38,258.13 L298.28,258.50 L299.20,258.85 L300.13,259.18 L301.09,259.48 L302.06,259.75 L303.05,260.00 L304.06,260.22 L305.09,260.42 L306.13,260.59 L307.19,260.74 L308.27,260.86 L309.37,260.95 L310.48,261.01 L310.53,259.31 L309.46,259.28 L308.41,259.21 L307.38,259.12 L306.35,259.01 L305.35,258.86 L304.36,258.70 L303.39,258.51 L302.43,258.29 L301.49,258.05 L300.57,257.79 L299.67,257.50 L298.78,257.19 L297.90,256.86 L297.05,256.50 L296.21,256.12 L295.39,255.72 L294.59,255.29 L293.81,254.84 L293.04,254.38 L292.29,253.89 L291.56,253.37 L290.85,252.84 L290.15,252.29 L289.48,251.71 L288.82,251.12 L288.18,250.50 L287.56,249.87 L286.96,249.21 L286.38,248.54 L285.82,247.84 L285.28,247.13 L284.75,246.40 L284.25,245.64 L283.77,244.88 L283.31,244.09 L282.86,243.28 L282.44,242.46 L282.04,241.62 L281.66,240.76 L281.29,239.89 Z" fill="#262626"/><path d="M317.5,260.4 L309.4,263.9 L309.6,256.3 Z" fill="#262626"/>
<path d="M381.40,314.50 L381.41,315.27 L381.44,316.04 L381.48,316.81 L381.54,317.56 L381.62,318.32 L381.71,319.07 L381.81,319.81 L381.93,320.55 L382.06,321.28 L382.21,322.01 L382.37,322.73 L382.55,323.45 L382.74,324.16 L382.95,324.86 L383.17,325.55" fill="none" stroke="#262626" stroke-width="0.55" stroke-dasharray="2.2,1.6" opacity="0.8"/><path d="M382.93,325.63 L383.16,326.42 L383.42,327.20 L383.70,327.97 L384.00,328.73 L384.32,329.49 L384.65,330.23 L385.00,330.96 L385.37,331.68 L385.76,332.40 L386.16,333.10 L386.58,333.79 L387.01,334.47 L387.47,335.14 L387.93,335.79 L388.42,336.44 L388.91,337.07 L389.43,337.69 L389.96,338.29 L390.50,338.89 L391.06,339.47 L391.63,340.03 L392.22,340.59 L392.82,341.12 L393.44,341.65 L394.07,342.15 L394.71,342.65 L395.37,343.13 L396.04,343.59 L396.72,344.03 L397.42,344.46 L398.12,344.88 L398.85,345.27 L399.58,345.65 L400.33,346.01 L401.08,346.36 L401.85,346.68 L402.64,346.99 L403.43,347.28 L404.23,347.55 L405.05,347.80 L405.50,346.17 L404.72,345.95 L403.95,345.71 L403.19,345.46 L402.44,345.19 L401.70,344.90 L400.97,344.60 L400.24,344.28 L399.53,343.94 L398.83,343.58 L398.14,343.21 L397.47,342.82 L396.80,342.41 L396.14,341.99 L395.50,341.55 L394.87,341.10 L394.25,340.63 L393.64,340.15 L393.04,339.65 L392.46,339.14 L391.89,338.62 L391.33,338.08 L390.79,337.52 L390.26,336.96 L389.74,336.38 L389.23,335.78 L388.74,335.18 L388.27,334.56 L387.80,333.93 L387.36,333.28 L386.92,332.63 L386.50,331.96 L386.10,331.28 L385.71,330.59 L385.34,329.89 L384.98,329.18 L384.63,328.46 L384.31,327.73 L383.99,326.99 L383.69,326.24 L383.40,325.48 Z" fill="#262626"/><path d="M412.5,349.0 L403.3,350.4 L405.3,343.1 Z" fill="#262626"/>
<path d="M747.50,197.30 L747.53,198.43 L747.59,199.54 L747.66,200.63 L747.75,201.71 L747.86,202.77 L748.00,203.82 L748.15,204.85 L748.31,205.86 L748.50,206.86 L748.71,207.84 L748.94,208.80 L749.18,209.75 L749.45,210.68 L749.73,211.59 L750.04,212.49" fill="none" stroke="#262626" stroke-width="0.55" stroke-dasharray="2.2,1.6" opacity="0.8"/><path d="M749.80,212.57 L750.14,213.58 L750.51,214.56 L750.91,215.52 L751.34,216.47 L751.79,217.39 L752.27,218.29 L752.78,219.17 L753.31,220.03 L753.86,220.87 L754.45,221.69 L755.06,222.48 L755.69,223.26 L756.35,224.01 L757.04,224.75 L757.75,225.46 L758.49,226.14 L759.26,226.81 L760.05,227.45 L760.87,228.08 L761.71,228.68 L762.58,229.25 L763.48,229.81 L764.40,230.34 L765.34,230.85 L766.32,231.34 L767.31,231.80 L768.34,232.24 L769.39,232.66 L770.46,233.05 L771.56,233.43 L772.68,233.77 L773.84,234.10 L775.01,234.40 L776.21,234.68 L777.44,234.94 L778.69,235.17 L779.97,235.38 L781.27,235.56 L782.60,235.72 L783.95,235.86 L784.10,234.17 L782.77,234.06 L781.47,233.92 L780.20,233.77 L778.95,233.59 L777.73,233.38 L776.53,233.16 L775.36,232.91 L774.21,232.64 L773.09,232.35 L771.99,232.04 L770.92,231.70 L769.87,231.34 L768.85,230.96 L767.85,230.56 L766.88,230.14 L765.93,229.69 L765.00,229.22 L764.10,228.73 L763.22,228.22 L762.37,227.69 L761.54,227.13 L760.74,226.55 L759.96,225.95 L759.20,225.33 L758.47,224.69 L757.76,224.02 L757.08,223.34 L756.41,222.63 L755.77,221.90 L755.16,221.14 L754.57,220.37 L754.00,219.57 L753.45,218.75 L752.93,217.91 L752.43,217.05 L751.96,216.16 L751.51,215.25 L751.08,214.32 L750.67,213.37 L750.28,212.40 Z" fill="#262626"/><path d="M791.0,235.6 L782.7,238.5 L783.3,231.3 Z" fill="#262626"/>
<path d="M815.60,292.30 L815.63,293.03 L815.67,293.76 L815.72,294.49 L815.79,295.21 L815.88,295.93 L815.97,296.65 L816.08,297.36 L816.21,298.07 L816.35,298.77 L816.50,299.47 L816.66,300.16 L816.84,300.85 L817.03,301.53 L817.23,302.20 L817.44,302.87" fill="none" stroke="#262626" stroke-width="0.55" stroke-dasharray="2.2,1.6" opacity="0.8"/><path d="M817.21,302.95 L817.43,303.71 L817.69,304.46 L817.96,305.20 L818.25,305.93 L818.55,306.66 L818.87,307.37 L819.21,308.08 L819.56,308.77 L819.93,309.45 L820.31,310.13 L820.71,310.79 L821.12,311.44 L821.54,312.07 L821.99,312.70 L822.44,313.31 L822.91,313.91 L823.39,314.50 L823.89,315.07 L824.40,315.63 L824.93,316.18 L825.46,316.71 L826.01,317.22 L826.58,317.72 L827.15,318.21 L827.74,318.67 L828.34,319.12 L828.96,319.56 L829.58,319.97 L830.22,320.37 L830.87,320.75 L831.53,321.11 L832.21,321.46 L832.89,321.78 L833.58,322.08 L834.29,322.36 L835.01,322.63 L835.74,322.87 L836.47,323.09 L837.22,323.29 L837.98,323.46 L838.31,321.80 L837.60,321.65 L836.90,321.49 L836.20,321.31 L835.51,321.11 L834.83,320.88 L834.16,320.64 L833.50,320.38 L832.84,320.09 L832.20,319.79 L831.56,319.48 L830.94,319.14 L830.32,318.78 L829.72,318.41 L829.12,318.02 L828.53,317.61 L827.96,317.19 L827.39,316.75 L826.83,316.29 L826.29,315.82 L825.76,315.33 L825.23,314.82 L824.72,314.31 L824.22,313.77 L823.74,313.22 L823.26,312.66 L822.80,312.09 L822.35,311.50 L821.91,310.90 L821.48,310.28 L821.07,309.66 L820.67,309.02 L820.29,308.37 L819.91,307.71 L819.56,307.03 L819.21,306.35 L818.88,305.66 L818.56,304.96 L818.26,304.24 L817.96,303.52 L817.68,302.79 Z" fill="#262626"/><path d="M845.5,324.1 L836.4,326.2 L837.9,318.7 Z" fill="#262626"/>
<line x1="747" y1="38" x2="747" y2="65.1" stroke="#222" stroke-width="1.6"/><path d="M747.0,72.1 L743.0,64.1 L751.0,64.1 Z" fill="#222"/>
<line x1="873.1" y1="245.4" x2="873.1" y2="271.8" stroke="#222" stroke-width="1.6"/><path d="M873.1,278.2 L869.5,270.8 L876.7,270.8 Z" fill="#222"/>
<line x1="1039.7" y1="351.5" x2="1039.7" y2="378.1" stroke="#222" stroke-width="1.6"/><path d="M1039.7,385.1 L1035.7,377.1 L1043.7,377.1 Z" fill="#222"/>
<path d="M430.8,338.3 L454.7,338.3 L454.7,425.6 L430.8,425.6 L430.8,421 A43.45,43.45 0 0 1 430.8,343.8 Z" fill="#f4f1f7"/>
<path d="M866.8,327 L888.6,327 L888.6,415.4 L866.8,415.4 L866.8,410.5 A43.31,43.31 0 0 1 866.8,332 Z" fill="#f4f1f7"/>
<path d="M306.00,357.00 A39.71,39.71 0 0 0 306.00,398.00" fill="none" stroke="#ac7a7e" stroke-width="8" stroke-linecap="round"/><path d="M306.00,357.00 A39.71,39.71 0 0 0 306.00,398.00" fill="none" stroke="#d9a8aa" stroke-width="5.2" stroke-linecap="round"/>
<path d="M430.80,343.80 A43.45,43.45 0 0 0 430.80,421.00" fill="none" stroke="#ac7a7e" stroke-width="10.5" stroke-linecap="round"/><path d="M430.80,343.80 A43.45,43.45 0 0 0 430.80,421.00" fill="none" stroke="#d9a8aa" stroke-width="7.7" stroke-linecap="round"/>
<path d="M740.80,348.00 A44.53,44.53 0 0 0 740.80,384.00" fill="none" stroke="#ac7a7e" stroke-width="7.4" stroke-linecap="round"/><path d="M740.80,348.00 A44.53,44.53 0 0 0 740.80,384.00" fill="none" stroke="#d9a8aa" stroke-width="4.6000000000000005" stroke-linecap="round"/>
<path d="M866.80,332.00 A43.31,43.31 0 0 0 866.80,410.50" fill="none" stroke="#ac7a7e" stroke-width="9.6" stroke-linecap="round"/><path d="M866.80,332.00 A43.31,43.31 0 0 0 866.80,410.50" fill="none" stroke="#d9a8aa" stroke-width="6.8" stroke-linecap="round"/>
<circle cx="314.5" cy="371" r="2.8" fill="#99479b" stroke="rgba(0,0,0,0.25)" stroke-width="0.5"/>
<circle cx="311.7" cy="383.5" r="3.1" fill="#3b9a9c" stroke="rgba(0,0,0,0.25)" stroke-width="0.5"/>
<circle cx="320.8" cy="380.3" r="3.1" fill="#1b4c8c" stroke="rgba(0,0,0,0.25)" stroke-width="0.5"/>
<circle cx="748.9" cy="359.7" r="2.8" fill="#99479b" stroke="rgba(0,0,0,0.25)" stroke-width="0.5"/>
<circle cx="746.2" cy="372" r="3.1" fill="#3b9a9c" stroke="rgba(0,0,0,0.25)" stroke-width="0.5"/>
<circle cx="755.6" cy="368.8" r="3.1" fill="#1b4c8c" stroke="rgba(0,0,0,0.25)" stroke-width="0.5"/>
<circle cx="442.8" cy="357.6" r="2.9" fill="#99479b" stroke="rgba(0,0,0,0.25)" stroke-width="0.5"/><path d="M424.4,372 C427.71999999999997,374.2 430.21,374 432.7,369.85 S436.02,365.9 441,367.7" fill="none" stroke="#7a3535" stroke-width="1.7" stroke-linecap="round"/><circle cx="455.7" cy="374.5" r="3.1" fill="#1b4c8c" stroke="rgba(0,0,0,0.25)" stroke-width="0.5"/><circle cx="436.4" cy="381.8" r="3.1" fill="#3b9a9c" stroke="rgba(0,0,0,0.25)" stroke-width="0.5"/><circle cx="421.7" cy="387.5" r="3" fill="#5450a8" stroke="rgba(0,0,0,0.25)" stroke-width="0.5"/><circle cx="449.8" cy="390.7" r="2.9" fill="#5450a8" stroke="rgba(0,0,0,0.25)" stroke-width="0.5"/><path d="M425.3,399.5 C428.36,401.7 430.65500000000003,401.5 432.95000000000005,396.25 S436.01,391.2 440.6,393" fill="none" stroke="#7a3535" stroke-width="1.7" stroke-linecap="round"/><circle cx="446.1" cy="404.4" r="2.9" fill="#99479b" stroke="rgba(0,0,0,0.25)" stroke-width="0.5"/>
<circle cx="877.4" cy="345.7" r="2.9" fill="#99479b" stroke="rgba(0,0,0,0.25)" stroke-width="0.5"/><path d="M859.0,360.09999999999997 C862.3199999999999,362.29999999999995 864.81,362.09999999999997 867.3,357.94999999999993 S870.6199999999999,353.99999999999994 875.5999999999999,355.79999999999995" fill="none" stroke="#7a3535" stroke-width="1.7" stroke-linecap="round"/><circle cx="890.3" cy="362.59999999999997" r="3.1" fill="#1b4c8c" stroke="rgba(0,0,0,0.25)" stroke-width="0.5"/><circle cx="871.0" cy="369.9" r="3.1" fill="#3b9a9c" stroke="rgba(0,0,0,0.25)" stroke-width="0.5"/><circle cx="856.3" cy="375.59999999999997" r="3" fill="#5450a8" stroke="rgba(0,0,0,0.25)" stroke-width="0.5"/><circle cx="884.4" cy="378.79999999999995" r="2.9" fill="#5450a8" stroke="rgba(0,0,0,0.25)" stroke-width="0.5"/><path d="M859.9,387.59999999999997 C862.96,389.79999999999995 865.255,389.59999999999997 867.55,384.34999999999997 S870.61,379.29999999999995 875.2,381.09999999999997" fill="none" stroke="#7a3535" stroke-width="1.7" stroke-linecap="round"/><circle cx="880.7" cy="392.49999999999994" r="2.9" fill="#99479b" stroke="rgba(0,0,0,0.25)" stroke-width="0.5"/>
<defs><linearGradient id="ga" x1="0" x2="1" y1="0" y2="0"><stop offset="0" stop-color="#aa7578" stop-opacity="0"/><stop offset="0.45" stop-color="#aa7578" stop-opacity="0.85"/><stop offset="1" stop-color="#a87376"/></linearGradient></defs>
<rect x="329" y="375.70000000000005" width="53.89999999999998" height="2.8" fill="url(#ga)"/><path d="M391,377.1 L382.4,372.70000000000005 L382.4,381.5 Z" fill="#a87376"/>
<rect x="467" y="378.90000000000003" width="45.10000000000002" height="2.8" fill="url(#ga)"/><path d="M520.2,380.3 L511.6,375.90000000000003 L511.6,384.7 Z" fill="#a87376"/>
<rect x="763" y="363.90000000000003" width="54.39999999999998" height="2.8" fill="url(#ga)"/><path d="M825.9,365.3 L816.9,360.90000000000003 L816.9,369.7 Z" fill="#a87376"/>
<rect x="902" y="367.6" width="55.799999999999955" height="2.8" fill="url(#ga)"/><path d="M966.1,369 L957.3,364.6 L957.3,373.4 Z" fill="#a87376"/>
<circle cx="547.9" cy="349.9" r="23.1" fill="none" stroke="#ac7a7e" stroke-width="5.4"/><circle cx="547.9" cy="349.9" r="23.1" fill="none" stroke="#d9a8aa" stroke-width="3.4"/><circle cx="547.9" cy="349.9" r="20.4" fill="#fdf1f2"/><circle cx="544.1" cy="336.4" r="1.8" fill="#99479b"/><path d="M549.4,334.2 Q551.3,334.1 551.2,337.0 T553.0,339.8" fill="none" stroke="#7a3535" stroke-width="1.1"/><circle cx="560.1" cy="339.5" r="1.8" fill="#3b9a9c"/><path d="M534.2,344.5 Q537.3,342.2 538.5,342.9 T542.8,341.3" fill="none" stroke="#7a3535" stroke-width="1.1"/><circle cx="550.7" cy="345.4" r="1.8" fill="#1b4c8c"/><path d="M554.5,347.9 Q557.5,346.8 558.5,348.6 T562.6,349.4" fill="none" stroke="#7a3535" stroke-width="1.1"/><circle cx="540.6" cy="349.2" r="1.8" fill="#3b9a9c"/><circle cx="532.7" cy="352.3" r="1.8" fill="#5450a8"/><circle cx="547.6" cy="354.3" r="1.8" fill="#5450a8"/><circle cx="556.0" cy="352.3" r="1.8" fill="#3b9a9c"/><path d="M534.7,358.0 Q537.5,355.8 538.2,356.5 T541.8,355.0" fill="none" stroke="#7a3535" stroke-width="1.1"/><circle cx="560.1" cy="357.5" r="1.8" fill="#1b4c8c"/><circle cx="545.9" cy="361.1" r="1.8" fill="#99479b"/><path d="M550.5,362.1 Q553.4,361.3 554.3,363.6 T558.1,365.1" fill="none" stroke="#7a3535" stroke-width="1.1"/>
<circle cx="604.5" cy="366.7" r="23.1" fill="none" stroke="#ac7a7e" stroke-width="5.4"/><circle cx="604.5" cy="366.7" r="23.1" fill="none" stroke="#d9a8aa" stroke-width="3.4"/><circle cx="604.5" cy="366.7" r="20.4" fill="#fdf1f2"/><circle cx="600.7" cy="353.2" r="1.8" fill="#99479b"/><path d="M606.0,351.0 Q607.9,350.9 607.8,353.8 T609.6,356.6" fill="none" stroke="#7a3535" stroke-width="1.1"/><circle cx="616.7" cy="356.3" r="1.8" fill="#3b9a9c"/><path d="M590.8,361.3 Q593.9,359.0 595.1,359.7 T599.4,358.1" fill="none" stroke="#7a3535" stroke-width="1.1"/><circle cx="607.3" cy="362.2" r="1.8" fill="#1b4c8c"/><path d="M611.1,364.7 Q614.1,363.6 615.2,365.4 T619.2,366.2" fill="none" stroke="#7a3535" stroke-width="1.1"/><circle cx="597.2" cy="366.0" r="1.8" fill="#3b9a9c"/><circle cx="589.3" cy="369.1" r="1.8" fill="#5450a8"/><circle cx="604.2" cy="371.1" r="1.8" fill="#5450a8"/><circle cx="612.6" cy="369.1" r="1.8" fill="#3b9a9c"/><path d="M591.3,374.8 Q594.1,372.6 594.8,373.3 T598.4,371.8" fill="none" stroke="#7a3535" stroke-width="1.1"/><circle cx="616.7" cy="374.3" r="1.8" fill="#1b4c8c"/><circle cx="602.5" cy="377.9" r="1.8" fill="#99479b"/><path d="M607.1,378.9 Q610.0,378.1 610.9,380.4 T614.7,381.9" fill="none" stroke="#7a3535" stroke-width="1.1"/>
<circle cx="557.8" cy="413.4" r="23.1" fill="none" stroke="#ac7a7e" stroke-width="5.4"/><circle cx="557.8" cy="413.4" r="23.1" fill="none" stroke="#d9a8aa" stroke-width="3.4"/><circle cx="557.8" cy="413.4" r="20.4" fill="#fdf1f2"/><circle cx="554.0" cy="399.9" r="1.8" fill="#99479b"/><path d="M559.3,397.7 Q561.2,397.6 561.1,400.5 T562.9,403.3" fill="none" stroke="#7a3535" stroke-width="1.1"/><circle cx="570.0" cy="403.0" r="1.8" fill="#3b9a9c"/><path d="M544.1,408.0 Q547.2,405.7 548.4,406.4 T552.7,404.8" fill="none" stroke="#7a3535" stroke-width="1.1"/><circle cx="560.6" cy="408.9" r="1.8" fill="#1b4c8c"/><path d="M564.4,411.4 Q567.4,410.3 568.5,412.1 T572.5,412.9" fill="none" stroke="#7a3535" stroke-width="1.1"/><circle cx="550.5" cy="412.7" r="1.8" fill="#3b9a9c"/><circle cx="542.6" cy="415.8" r="1.8" fill="#5450a8"/><circle cx="557.5" cy="417.8" r="1.8" fill="#5450a8"/><circle cx="565.9" cy="415.8" r="1.8" fill="#3b9a9c"/><path d="M544.6,421.5 Q547.4,419.2 548.1,420.0 T551.7,418.5" fill="none" stroke="#7a3535" stroke-width="1.1"/><circle cx="570.0" cy="421.0" r="1.8" fill="#1b4c8c"/><circle cx="555.8" cy="424.6" r="1.8" fill="#99479b"/><path d="M560.4,425.6 Q563.3,424.8 564.2,427.1 T568.0,428.6" fill="none" stroke="#7a3535" stroke-width="1.1"/>
<circle cx="999.2" cy="368.3" r="23.1" fill="none" stroke="#ac7a7e" stroke-width="5.4"/><circle cx="999.2" cy="368.3" r="23.1" fill="none" stroke="#d9a8aa" stroke-width="3.4"/><circle cx="999.2" cy="368.3" r="20.4" fill="#fdf1f2"/><circle cx="995.4" cy="354.8" r="1.8" fill="#99479b"/><path d="M1000.7,352.6 Q1002.6,352.5 1002.5,355.4 T1004.3,358.2" fill="none" stroke="#7a3535" stroke-width="1.1"/><circle cx="1011.4" cy="357.9" r="1.8" fill="#3b9a9c"/><path d="M985.5,362.9 Q988.6,360.6 989.8,361.3 T994.1,359.7" fill="none" stroke="#7a3535" stroke-width="1.1"/><circle cx="1002.0" cy="363.8" r="1.8" fill="#1b4c8c"/><path d="M1005.8,366.3 Q1008.8,365.2 1009.9,367.1 T1013.9,367.8" fill="none" stroke="#7a3535" stroke-width="1.1"/><circle cx="991.9" cy="367.6" r="1.8" fill="#3b9a9c"/><circle cx="984.0" cy="370.7" r="1.8" fill="#5450a8"/><circle cx="998.9" cy="372.7" r="1.8" fill="#5450a8"/><circle cx="1007.3" cy="370.7" r="1.8" fill="#3b9a9c"/><path d="M986.0,376.4 Q988.8,374.2 989.5,374.9 T993.1,373.4" fill="none" stroke="#7a3535" stroke-width="1.1"/><circle cx="1011.4" cy="375.9" r="1.8" fill="#1b4c8c"/><circle cx="997.2" cy="379.5" r="1.8" fill="#99479b"/><path d="M1001.8,380.5 Q1004.7,379.8 1005.6,382.0 T1009.4,383.5" fill="none" stroke="#7a3535" stroke-width="1.1"/>
<text letter-spacing="0.6" x="369.4" y="16.6" font-size="16" font-weight="bold" fill="#111" text-anchor="middle">Young</text>
<text letter-spacing="0.6" x="876.6" y="16.6" font-size="16" font-weight="bold" fill="#111" text-anchor="middle">Aging</text>
<text x="250.4" y="52.4" font-size="14.5" font-weight="bold" fill="#111" text-anchor="middle">DHHC5</text>
<text x="707" y="59.1" font-size="14.5" font-weight="bold" fill="#111" text-anchor="middle">DHHC5</text>
<text x="614.5" y="71.7" font-size="14.4" font-weight="bold" fill="#bf282d" text-anchor="middle">Golgi</text>
<text x="251.1" y="151" font-size="12.2" stroke="#111" stroke-width="0.12" fill="#111" text-anchor="middle">DHHC</text>
<text x="249.8" y="183.1" font-size="13.9" stroke="#111" stroke-width="0.14" fill="#111" text-anchor="middle">SH</text>
<text x="379.4" y="244.1" font-size="14.2" fill="#262626" text-anchor="middle">PI3KC3-C1</text>
<text x="552" y="464.8" font-size="14.9" font-weight="bold" fill="#1a1a1a" text-anchor="middle">High autophagic activity</text>
<text x="1003.6" y="423.6" font-size="14.85" font-weight="bold" fill="#1a1a1a" text-anchor="middle">Autophagy decline</text>
<text x="863.1" y="560.5" font-size="25.9" font-weight="bold" fill="#111" text-anchor="middle">Alzheimer's Disease</text>
<rect x="865.2" y="497.8" width="7.2" height="20" fill="#222"/>
<path d="M859.4,517 L878.4,517 L868.8,534.8 Z" fill="#222"/>
<g><defs><linearGradient id="fade" x1="0" y1="0" x2="0" y2="1"><stop offset="0" stop-color="#fff" stop-opacity="0"/><stop offset="1" stop-color="#fff" stop-opacity="1"/></linearGradient></defs><path d="M48.00,67.50 C54.67,67.08 63.83,67.92 70.00,70.00 C76.17,72.08 81.22,75.50 85.00,80.00 C88.78,84.50 91.45,92.33 92.70,97.00 C93.95,101.67 93.28,104.50 92.50,108.00 C91.72,111.50 89.75,115.00 88.00,118.00 C86.25,121.00 83.75,123.33 82.00,126.00 C80.25,128.67 78.53,131.33 77.50,134.00 C76.47,136.67 75.97,139.33 75.80,142.00 C75.63,144.67 75.88,147.17 76.50,150.00 C77.12,152.83 78.25,156.00 79.50,159.00 C80.75,162.00 82.15,164.87 84.00,168.00 C85.85,171.13 88.27,174.47 90.60,177.80 C92.93,181.13 95.85,184.13 98.00,188.00 C100.15,191.87 102.17,196.00 103.50,201.00 C104.83,206.00 112.92,215.00 106.00,218.00 C99.08,221.00 76.45,219.00 62.00,219.00 C47.55,219.00 25.13,220.50 19.30,218.00 C13.47,215.50 24.22,208.50 27.00,204.00 C29.78,199.50 33.43,195.00 36.00,191.00 C38.57,187.00 41.43,183.50 42.40,180.00 C43.37,176.50 42.08,172.83 41.80,170.00 C41.52,167.17 41.58,165.70 40.70,163.00 C39.82,160.30 39.55,154.98 36.50,153.80 C33.45,152.62 26.03,155.90 22.40,155.90 C18.77,155.90 16.22,155.45 14.70,153.80 C13.18,152.15 13.42,148.38 13.30,146.00 C13.18,143.62 14.40,141.12 14.00,139.50 C13.60,137.88 11.37,137.55 10.90,136.30 C10.43,135.05 11.27,133.28 11.20,132.00 C11.13,130.72 11.23,129.60 10.50,128.60 C9.77,127.60 7.38,126.77 6.80,126.00 C6.22,125.23 6.47,125.17 7.00,124.00 C7.53,122.83 9.00,120.93 10.00,119.00 C11.00,117.07 12.33,114.90 13.00,112.40 C13.67,109.90 13.75,106.90 14.00,104.00 C14.25,101.10 13.50,98.67 14.50,95.00 C15.50,91.33 17.42,85.75 20.00,82.00 C22.58,78.25 25.33,74.92 30.00,72.50 C34.67,70.08 41.33,67.92 48.00,67.50 Z" fill="#f3f3f3" stroke="#9d9d9d" stroke-width="0.7"/><path d="M86.00,120.00 C86.33,120.50 81.58,125.67 80.00,129.00 C78.42,132.33 77.08,136.50 76.50,140.00 C75.92,143.50 76.00,146.83 76.50,150.00 C77.00,153.17 78.25,156.00 79.50,159.00 C80.75,162.00 82.15,164.87 84.00,168.00 C85.85,171.13 88.27,174.47 90.60,177.80 C92.93,181.13 95.85,184.13 98.00,188.00 C100.15,191.87 102.17,196.00 103.50,201.00 C104.83,206.00 106.92,215.17 106.00,218.00 C105.08,220.83 99.67,221.00 98.00,218.00 C96.33,215.00 97.33,205.33 96.00,200.00 C94.67,194.67 92.33,190.00 90.00,186.00 C87.67,182.00 84.50,179.33 82.00,176.00 C79.50,172.67 76.67,170.00 75.00,166.00 C73.33,162.00 72.42,156.67 72.00,152.00 C71.58,147.33 71.50,142.33 72.50,138.00 C73.50,133.67 75.75,129.00 78.00,126.00 C80.25,123.00 85.67,119.50 86.00,120.00 Z" fill="#e0e0e0"/><path d="M36.5,153.8 C44,152 50,146 53,139 C52,148 50,156 47.5,163 C44,160 40,157 36.5,153.8 Z" fill="#e0e0e0"/><path d="M41,163 C48,170 56,175 60,178" fill="none" stroke="#d0d0d0" stroke-width="0.6"/><path d="M58,172 C56,185 52,197 48,206" fill="none" stroke="#c9c9c9" stroke-width="0.6"/><path d="M72,186 C62,190 55,200 54,216" fill="none" stroke="#cfcfcf" stroke-width="0.6"/><defs><clipPath id="bclip"><path d="M16.40,92.20 C17.02,89.45 18.77,84.93 21.00,82.00 C23.23,79.07 26.63,76.23 29.80,74.60 C32.97,72.97 36.28,72.73 40.00,72.20 C43.72,71.67 48.10,71.35 52.10,71.40 C56.10,71.45 60.28,71.77 64.00,72.50 C67.72,73.23 71.23,74.38 74.40,75.80 C77.57,77.22 80.65,78.80 83.00,81.00 C85.35,83.20 87.17,85.88 88.50,89.00 C89.83,92.12 90.65,96.53 91.00,99.70 C91.35,102.87 91.02,105.52 90.60,108.00 C90.18,110.48 89.43,112.68 88.50,114.60 C87.57,116.52 86.17,117.60 85.00,119.50 C83.83,121.40 83.00,124.25 81.50,126.00 C80.00,127.75 77.83,129.08 76.00,130.00 C74.17,130.92 72.17,130.20 70.50,131.50 C68.83,132.80 67.33,136.88 66.00,137.80 C64.67,138.72 63.42,137.80 62.50,137.00 C61.58,136.20 61.05,134.67 60.50,133.00 C59.95,131.33 60.37,128.83 59.20,127.00 C58.03,125.17 55.92,123.53 53.50,122.00 C51.08,120.47 48.40,119.27 44.70,117.80 C41.00,116.33 34.78,115.17 31.30,113.20 C27.82,111.23 26.13,108.45 23.80,106.00 C21.47,103.55 18.53,100.80 17.30,98.50 C16.07,96.20 15.78,94.95 16.40,92.20 Z"/></clipPath></defs><path d="M16.40,92.20 C17.02,89.45 18.77,84.93 21.00,82.00 C23.23,79.07 26.63,76.23 29.80,74.60 C32.97,72.97 36.28,72.73 40.00,72.20 C43.72,71.67 48.10,71.35 52.10,71.40 C56.10,71.45 60.28,71.77 64.00,72.50 C67.72,73.23 71.23,74.38 74.40,75.80 C77.57,77.22 80.65,78.80 83.00,81.00 C85.35,83.20 87.17,85.88 88.50,89.00 C89.83,92.12 90.65,96.53 91.00,99.70 C91.35,102.87 91.02,105.52 90.60,108.00 C90.18,110.48 89.43,112.68 88.50,114.60 C87.57,116.52 86.17,117.60 85.00,119.50 C83.83,121.40 83.00,124.25 81.50,126.00 C80.00,127.75 77.83,129.08 76.00,130.00 C74.17,130.92 72.17,130.20 70.50,131.50 C68.83,132.80 67.33,136.88 66.00,137.80 C64.67,138.72 63.42,137.80 62.50,137.00 C61.58,136.20 61.05,134.67 60.50,133.00 C59.95,131.33 60.37,128.83 59.20,127.00 C58.03,125.17 55.92,123.53 53.50,122.00 C51.08,120.47 48.40,119.27 44.70,117.80 C41.00,116.33 34.78,115.17 31.30,113.20 C27.82,111.23 26.13,108.45 23.80,106.00 C21.47,103.55 18.53,100.80 17.30,98.50 C16.07,96.20 15.78,94.95 16.40,92.20 Z" fill="#d09aa0"/><path d="M59.20,122.50 C60.67,121.42 64.87,121.00 68.00,120.50 C71.13,120.00 74.58,120.48 78.00,119.50 C81.42,118.52 87.33,114.60 88.50,114.60 C89.67,114.60 86.17,117.60 85.00,119.50 C83.83,121.40 83.00,124.25 81.50,126.00 C80.00,127.75 77.83,129.08 76.00,130.00 C74.17,130.92 72.17,130.20 70.50,131.50 C68.83,132.80 67.33,136.88 66.00,137.80 C64.67,138.72 63.42,137.80 62.50,137.00 C61.58,136.20 61.05,134.67 60.50,133.00 C59.95,131.33 59.42,128.75 59.20,127.00 C58.98,125.25 57.73,123.58 59.20,122.50 Z" fill="#cf939a"/><g clip-path="url(#bclip)"><path d="M87.6,112.7 L88.8,113.8 L89.6,115.2 M76.5,118.5 L78.1,118.2 L79.5,118.9 L80.5,120.2 L80.8,121.8 L80.0,123.2 M35.4,77.2 L35.3,78.8 L36.1,80.2 L36.2,81.8 M68.9,112.6 L69.8,113.9 L71.4,114.3 L72.9,113.8 L74.5,113.5 L75.6,112.3 M69.9,118.2 L68.3,118.1 L66.9,117.3 L65.3,117.5 L63.8,118.1 M86.8,81.2 L86.9,82.8 L87.9,84.0 L89.2,84.9 L90.6,85.7 M88.0,102.9 L86.6,103.7 L85.6,105.0 L84.0,105.4 M69.1,86.8 L68.8,88.3 L68.2,89.8 M23.0,82.9 L24.1,81.7 L24.2,80.1 L23.9,78.6 L23.5,77.0 L23.4,75.4 M31.7,110.3 L33.1,110.9 L34.7,110.9 L36.2,111.5 L37.8,111.4 L39.4,111.2 L40.9,110.5 M82.8,77.2 L81.4,77.9 L80.3,79.2 L79.4,80.5 L78.2,81.5 L76.6,81.7 L75.3,82.6 M46.1,82.2 L47.7,82.6 L49.2,82.1 L50.6,81.3 L52.2,81.4 L53.5,82.3 L54.5,83.6 M90.8,116.7 L91.1,118.3 L91.3,119.9 L91.5,121.5 L92.2,122.9 M70.7,112.3 L69.7,113.5 L69.6,115.1 L70.4,116.5 L71.3,117.8 M82.5,98.9 L81.0,99.5 L79.7,100.5 L78.2,100.8 M23.5,105.9 L21.9,106.2 L20.6,107.1 L19.6,108.3 M83.4,73.5 L83.1,75.0 L83.1,76.6 L83.3,78.2 L83.6,79.8 L83.2,81.3 M21.6,81.4 L22.6,80.1 L23.2,78.7 M87.9,101.6 L88.3,100.1 L89.4,99.0 L90.3,97.6 L91.5,96.6 M61.1,110.7 L62.6,110.3 L64.2,109.9 M87.8,117.8 L89.0,116.7 L90.5,116.2 L91.6,115.1 L92.7,113.9 L92.8,112.3 M85.9,86.6 L84.4,85.9 L82.9,85.6 L81.3,85.6 M74.9,75.8 L74.2,77.3 L73.8,78.8 L73.0,80.2 M52.6,98.1 L54.1,98.8 L54.8,100.2 L56.0,101.3 M23.2,76.6 L24.6,77.5 L26.1,77.7 L27.6,77.1 L29.1,76.4 L30.7,76.6 M34.4,97.9 L34.2,96.3 L33.6,94.8 M36.8,84.2 L37.8,85.4 L39.2,86.3 L40.8,86.4 L42.1,87.3 M59.8,87.7 L60.3,89.2 L60.8,90.7 L61.0,92.3 L62.0,93.6 L63.0,94.8 M19.7,72.2 L21.2,71.6 L22.0,70.2 L22.3,68.6 M25.8,81.1 L27.1,82.0 L28.4,83.0 L30.0,83.3 L31.5,83.8 L32.7,84.9 L33.6,86.2 M17.5,102.6 L17.5,104.2 L17.9,105.7 L19.1,106.8 L19.4,108.3 L20.6,109.4 L21.4,110.8 M84.6,111.1 L83.5,112.2 L82.1,113.1 L81.5,114.6 L81.9,116.1 M53.7,95.2 L55.1,96.0 L56.4,96.8 L57.6,97.9 L59.2,98.2 L60.7,97.7 M68.5,91.7 L67.5,90.4 L66.0,89.9 L64.7,88.9 L64.1,87.4 M47.6,72.9 L46.5,71.8 L45.2,70.8 L44.7,69.3 L44.0,67.9 M28.6,77.4 L27.0,77.5 L25.4,77.7 M29.0,72.7 L29.4,74.3 L30.0,75.7 L30.5,77.3 L30.0,78.8 L29.0,80.1 L28.8,81.7 M42.7,79.8 L43.6,78.4 L44.4,77.0 L45.7,76.1 M88.5,81.5 L88.4,79.9 L89.2,78.5 L89.5,76.9 M62.0,102.5 L63.4,101.9 L65.0,101.9 M28.9,109.7 L27.9,108.4 L26.5,107.7 L25.1,107.0 M58.8,74.0 L60.0,75.1 L61.5,75.6 L62.4,76.9 L62.7,78.5 L63.6,79.8 L63.7,81.4 M79.3,104.3 L80.4,105.5 L81.3,106.8 L82.0,108.2 L83.0,109.5 M48.1,100.0 L47.1,101.2 L46.0,102.4 L45.7,104.0 L46.4,105.4 L46.0,107.0 M51.4,93.4 L51.6,91.9 L51.1,90.3 L50.6,88.8 L49.3,87.9 L47.7,87.6 L46.1,87.5 M23.8,93.2 L22.3,92.7 L20.7,93.0 L19.2,92.3 L17.7,92.1 L16.2,91.3 L14.6,91.5 M72.7,115.0 L74.1,114.3 L75.6,113.8 L77.2,113.8 M25.1,78.3 L24.1,79.6 L22.7,80.3 L21.1,80.7 L19.5,80.5 L18.0,81.0 M78.6,101.3 L78.7,102.9 L79.2,104.4 L79.0,106.0 L79.6,107.5 M54.2,116.2 L53.0,115.1 L51.5,114.5 L49.9,114.2" fill="none" stroke="#dcb0b4" stroke-width="1.1" stroke-linecap="round" opacity="0.85"/><path d="M41.0,79.2 L42.1,80.3 L43.7,80.6 L45.2,81.1 L46.3,82.3 L47.7,83.1 L49.3,82.9 L50.8,82.5 L52.2,81.7 M57.8,74.8 L59.3,75.4 L60.6,76.3 L61.2,77.8 L61.6,79.3 L62.3,80.8 L61.9,82.4 L62.4,83.8 M80.5,85.9 L79.0,85.3 L77.6,84.7 L76.3,83.6 L74.8,83.4 M59.3,81.0 L57.7,81.5 L56.8,82.8 L56.4,84.3 M67.3,92.5 L65.9,91.9 L64.3,91.6 L62.7,91.9 L61.4,92.8 L59.8,93.2 M23.1,86.4 L24.5,85.7 L25.6,84.6 L27.2,84.5 L28.5,83.5 L29.7,82.4 L31.2,81.9 M28.2,95.5 L29.3,94.3 L30.5,93.2 L32.0,92.7 M77.6,88.3 L76.3,87.3 L75.1,86.3 L74.4,84.9 L74.6,83.3 L74.8,81.7 M66.1,74.9 L65.4,76.3 L64.3,77.5 L63.3,78.8 L62.0,79.7 L60.4,79.8 L58.9,80.2 L57.4,79.7 L55.8,79.5 M62.2,95.7 L61.6,94.2 L60.5,93.1 L59.2,92.1 L58.6,90.6 M23.0,93.6 L23.5,95.1 L24.2,96.5 L24.7,98.0 L24.8,99.6 L23.9,100.9 L22.7,102.0 L21.7,103.2 M34.1,76.0 L34.8,77.4 L35.6,78.8 L36.2,80.3 L37.2,81.5 M17.3,92.1 L15.9,91.4 L14.3,91.6 L12.8,90.9 L12.0,89.5 L11.5,88.0 M71.7,93.9 L72.0,92.3 L72.0,90.7 L71.2,89.4 L70.6,87.9 L69.3,87.0 L67.7,87.0 L66.2,87.6 L65.2,88.9 M42.2,74.5 L40.7,73.8 L40.0,72.4 L39.5,70.8 M22.2,82.0 L23.5,82.9 L25.0,83.5 L26.6,83.7 L28.1,83.2 L29.7,83.4 L30.8,84.6 M51.5,95.2 L52.0,96.7 L51.9,98.3 L52.0,99.9 M68.2,96.8 L69.8,96.4 L70.9,95.3 L72.1,94.2 L72.5,92.7 M56.1,119.0 L55.1,117.7 L53.9,116.7 L52.3,116.3 M74.1,97.6 L73.9,99.2 L73.1,100.5 L71.6,101.1 L70.0,100.8 L68.7,99.9 L67.9,98.6 L67.5,97.0 M33.8,96.8 L34.6,95.5 L36.0,94.6 L37.2,93.6 L38.0,92.2 L39.0,91.0 M42.5,110.8 L43.8,111.7 L45.3,112.2 L46.9,112.2 L48.4,111.6 L49.5,110.4 L50.0,108.9 L50.8,107.5 L52.2,106.7 M79.2,95.0 L78.1,96.1 L76.5,96.6 L75.5,97.8 L74.6,99.2 L73.4,100.2 L72.7,101.6 L71.4,102.5 L70.1,103.5 M64.1,76.2 L62.9,77.3 L61.4,77.6 L59.8,77.3 L58.2,77.8 L57.2,79.0 L56.8,80.6 L55.6,81.7 L54.1,82.2 M27.8,111.7 L26.7,110.5 L25.6,109.4 L24.1,108.8 L22.6,109.4 L21.1,108.9 L19.7,108.1 M56.0,116.8 L57.4,116.0 L59.0,116.0 L60.2,115.1 L61.0,113.7 L61.8,112.3 L63.1,111.3 M41.1,98.1 L42.3,99.2 L42.8,100.7 L42.9,102.3 L42.3,103.8 M55.2,111.7 L56.8,112.2 L58.3,112.8 L59.3,114.0 L59.8,115.5 L60.0,117.1 L59.7,118.7 L60.1,120.2 M27.5,101.7 L25.9,101.5 L24.3,101.3 L22.7,101.0 M75.0,77.1 L76.6,77.0 L77.8,75.9 L78.3,74.4 L78.7,72.8 L78.0,71.4 L78.2,69.8 L77.4,68.4 M41.1,118.7 L39.6,118.2 L38.1,117.7 L36.5,117.2 L35.0,116.8 L34.0,115.5 L33.4,114.0 L33.7,112.4 M86.7,84.5 L87.5,83.0 L88.1,81.6 L88.6,80.0 L88.8,78.5 L88.6,76.9 L88.8,75.3 L88.8,73.7 M32.7,86.5 L33.4,85.1 L34.5,83.9 L35.8,83.0 M27.6,114.4 L26.9,115.8 L26.4,117.4 L26.0,118.9 L24.7,119.8 L23.1,120.0 L21.8,120.9 M48.9,96.7 L47.7,97.8 L47.2,99.3 L47.0,100.9 L47.2,102.5 L47.5,104.1 M69.0,90.4 L67.9,89.3 L66.3,89.0 L65.3,87.8 L64.8,86.3 L65.4,84.8 L65.1,83.2 L64.3,81.8 M19.9,109.4 L20.7,108.0 L22.0,107.1 L23.5,106.5 L25.0,107.0 L26.6,107.2 M56.7,96.7 L55.5,95.7 L53.9,95.6 L52.4,95.1 L50.8,94.7 L49.3,95.3 L47.8,94.9 M63.9,110.5 L62.4,110.0 L60.8,110.1 L59.5,110.9 M17.9,119.7 L19.0,118.6 L19.4,117.1 L19.9,115.5 L19.8,113.9 L18.9,112.6 L17.5,111.9 M20.7,81.7 L19.7,80.5 L18.2,79.8 L16.7,79.2 L15.4,78.3 L13.9,77.9 M76.5,119.7 L77.9,120.4 L79.3,121.2 L80.9,121.2 M52.1,116.9 L51.6,115.4 L51.3,113.8 L51.2,112.2 M82.8,118.6 L83.2,117.0 L83.3,115.4 L84.1,114.1 L85.3,113.0 L86.6,112.1 M46.9,88.7 L46.7,87.1 L46.8,85.5 L47.7,84.2 M48.9,74.7 L50.3,73.9 L51.8,73.5 L53.2,72.7 L54.2,71.5 L54.8,70.0 L55.3,68.4 L55.0,66.9 L54.7,65.3 M36.5,118.2 L36.8,119.7 L36.2,121.2 L36.3,122.8 L37.1,124.2 L38.1,125.4 L39.7,125.9 L41.3,125.8 M65.5,83.9 L66.4,85.3 L67.8,86.1 L69.1,87.0 M46.2,86.4 L46.1,88.0 L46.1,89.6 L45.4,91.1 L44.5,92.4 L43.2,93.3 L41.6,93.5 L40.1,93.9 L38.7,94.7 M89.9,79.2 L88.3,78.8 L87.1,77.7 L86.2,76.4 L85.4,75.0 L84.4,73.8 L83.9,72.3 L83.3,70.8 L83.7,69.2 M72.7,99.3 L73.6,98.0 L75.1,97.3 L76.6,97.0 M68.3,83.0 L69.7,83.7 L70.5,85.2 L71.4,86.4 M50.4,74.4 L49.6,73.1 L48.8,71.7 L47.3,71.2 M76.0,107.9 L76.6,106.4 L77.2,104.9 L78.3,103.8 L79.3,102.5 L80.8,101.9 L82.4,101.9 L83.9,101.4 M73.0,83.1 L74.6,82.8 L76.1,82.3 L77.6,81.8 L79.2,81.6 L80.7,82.0 L82.2,82.7 L83.4,83.7 L85.0,83.7 M27.9,84.2 L27.6,82.6 L26.6,81.4 L25.5,80.2 L24.4,79.0 L24.3,77.4 L23.3,76.2 L21.9,75.3 L20.6,74.6 M69.5,85.7 L68.3,86.8 L66.7,87.1 L65.4,88.0 L63.8,87.9 L62.5,87.0 L60.9,87.0 M51.0,111.4 L52.5,111.0 L54.0,111.6 L54.9,113.0 L56.4,113.6 L57.9,113.3 L59.5,113.6 M36.4,89.3 L37.1,87.8 L38.4,86.9 L39.9,86.5 L41.2,85.5 L42.8,85.3 L44.4,85.1 L45.5,84.0 M17.3,95.6 L15.7,96.0 L14.2,96.7 L12.9,97.5 L12.2,98.9 L11.8,100.5 L11.8,102.1 M42.0,91.1 L42.6,89.6 L42.6,88.0 L42.4,86.4 L41.9,84.9 M90.9,100.3 L92.5,100.1 L94.0,100.7 L95.6,100.8 L96.9,100.0 L98.5,99.5 M64.0,79.1 L62.7,80.1 L61.2,80.6 L59.6,80.4 L58.0,80.3 L56.7,81.3 M73.4,91.2 L72.1,90.3 L70.5,90.3 L68.9,89.8 L67.4,89.4 L66.1,88.5 L64.9,87.4 L63.5,86.6 M20.6,116.5 L21.6,117.8 L22.8,118.8 L24.4,119.2 L25.6,120.2 M65.3,91.5 L64.7,93.0 L64.3,94.5 L64.6,96.1 L65.6,97.3 M32.4,115.5 L30.8,115.1 L29.2,115.1 L27.7,114.5 L26.2,114.0 L24.7,113.5 L23.1,113.5 M29.9,98.7 L30.6,100.2 L31.0,101.7 L30.7,103.2 L29.8,104.6 L29.1,106.0 M47.6,97.2 L46.9,98.6 L46.2,100.0 L45.3,101.3 L44.7,102.8 L43.7,104.1 L42.7,105.3 M75.5,112.7 L75.8,114.3 L76.4,115.8 L77.1,117.2" fill="none" stroke="#b4767e" stroke-width="0.75" stroke-linecap="round" opacity="0.85"/><path d="M59.0,122.0 C66.0,121.0 75.0,120.5 86.0,119.0 M59.5,123.8 C66.0,122.8 75.0,122.3 84.0,120.8 M60.0,125.6 C66.0,124.6 75.0,124.1 82.0,122.6 M60.5,127.4 C66.0,126.4 75.0,125.9 80.0,124.4 M61.0,129.2 C66.0,128.2 75.0,127.7 78.0,126.2 M61.5,131.0 C66.0,130.0 75.0,129.5 76.0,128.0" fill="none" stroke="#b06a74" stroke-width="0.6" opacity="0.8"/><path d="M59,122.5 C68,120.5 78,119.5 88.5,114.6" fill="none" stroke="#b8747d" stroke-width="0.9"/><path d="M27,104 C38,101 50,103 60,100 C70,97 80,99 88,104" fill="none" stroke="#b4707a" stroke-width="1.1"/></g><path d="M18.2,114.5 C20,114 23,114.2 24.5,115.2" fill="none" stroke="#7a7a7a" stroke-width="0.7"/><path d="M16.8,109.8 C20,108.5 24,108.5 26.6,109.8" fill="none" stroke="#d6d6d6" stroke-width="1"/><path d="M51.2,126 C53,125 56,126.5 56.5,129 C56.5,131 54,131.5 52.5,131" fill="#fbfbfb" stroke="#b0b0b0" stroke-width="0.5"/><path d="M11,128.5 C12.5,129 13.5,130 14,131" fill="none" stroke="#aaa" stroke-width="0.5"/><rect x="0" y="200" width="120" height="20" fill="url(#fade)"/></g>
<path d="M142.5,31.2 L70.3,97.5 M142.5,493.5 L71.5,104" fill="none" stroke="#1a1a1a" stroke-width="1.55" stroke-dasharray="3.1,3.2"/>
</svg></body></html>
